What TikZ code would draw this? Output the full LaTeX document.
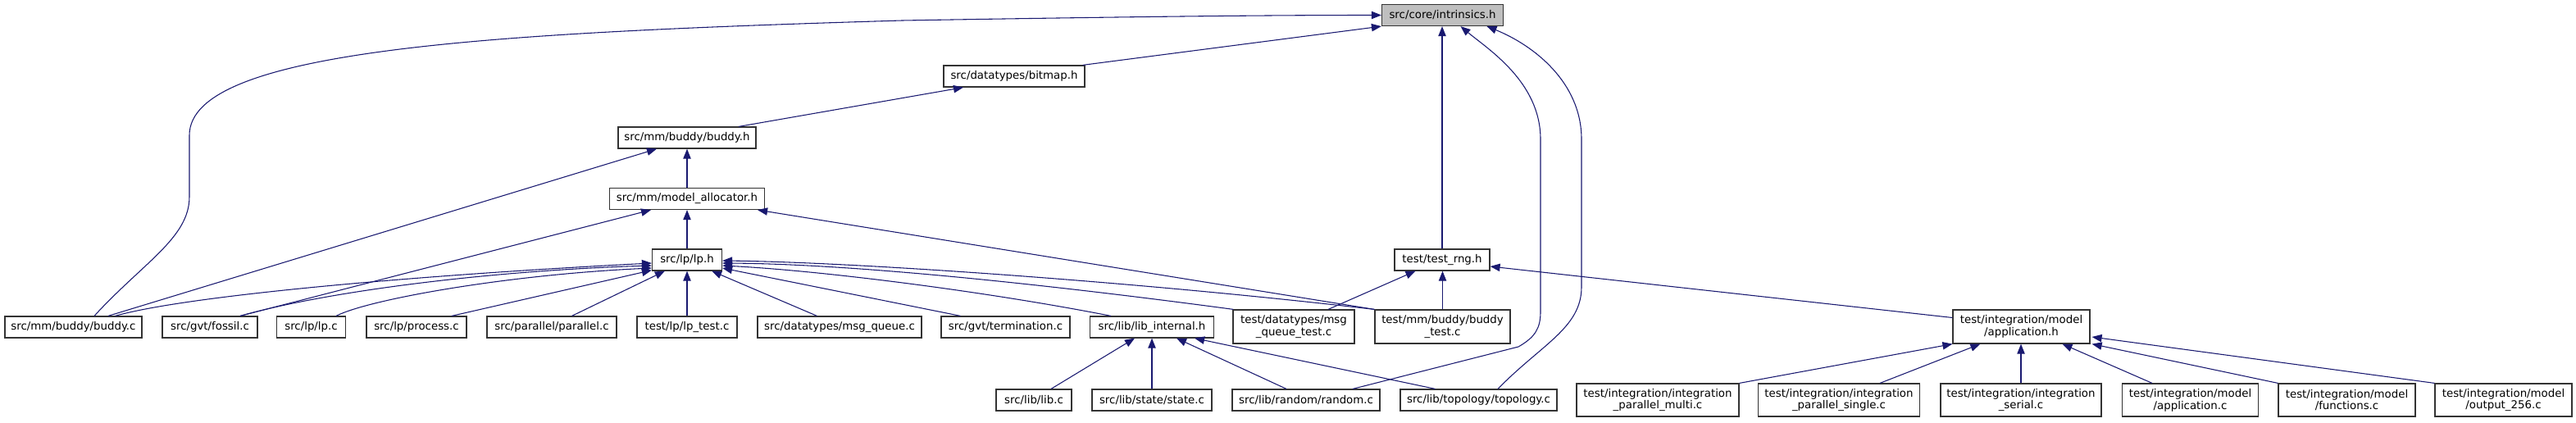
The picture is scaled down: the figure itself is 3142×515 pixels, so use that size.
\documentclass[tikz,border=0pt]{standalone}
\usepackage{fontspec}
\setmainfont{DejaVu Sans}
\usetikzlibrary{arrows.meta,calc}
\definecolor{edgeblue}{HTML}{191970}
\definecolor{rootgray}{HTML}{BFBFBF}
\begin{document}
\begin{tikzpicture}[x=0.75pt,y=-0.75pt,
  nd/.style={draw=black!80, line width=0.9pt, fill=white, inner sep=0pt,
    minimum height=19.5pt, font=\fontsize{10}{11}\selectfont, align=center},
  two/.style={nd, minimum height=30.75pt},
  twob/.style={nd, minimum height=30pt},
  wd/.style={minimum width=#1*0.75pt},
  edge/.style={draw=edgeblue, line width=0.8pt, -{Triangle[length=9pt,width=7pt]}}]
\useasboundingbox (0,0) rectangle (3142,515);
% nodes
\node[nd,wd=148,fill=rootgray] (intr) at (1759.5,18.5) {src/core/intrinsics.h};
\node[nd,wd=172] (bitmap) at (1237,93) {src/datatypes/bitmap.h};
\node[nd,wd=168] (buddyh) at (838,168) {src/mm/buddy/buddy.h};
\node[nd,wd=189] (modalloc) at (838,242.5) {src/mm/model\_allocator.h};
\node[nd,wd=85] (lph) at (838,317) {src/lp/lp.h};
\node[nd,wd=116] (testrng) at (1759,317) {test/test\_rng.h};
\node[nd,wd=167] (buddyc) at (89.5,399) {src/mm/buddy/buddy.c};
\node[nd,wd=116] (fossil) at (256,399) {src/gvt/fossil.c};
\node[nd,wd=84] (lpc) at (379.5,399) {src/lp/lp.c};
\node[nd,wd=122] (process) at (508,399) {src/lp/process.c};
\node[nd,wd=158] (parallel) at (673,399) {src/parallel/parallel.c};
\node[nd,wd=122] (lptest) at (838,399) {test/lp/lp\_test.c};
\node[nd,wd=200] (msgq) at (1024,399) {src/datatypes/msg\_queue.c};
\node[nd,wd=157] (term) at (1226.5,399) {src/gvt/termination.c};
\node[nd,wd=151] (libint) at (1405,399) {src/lib/lib\_internal.h};
\node[two,wd=148] (msgqtest) at (1578,398.5) {test/datatypes/msg\\\_queue\_test.c};
\node[two,wd=165] (buddytest) at (1759.5,398.5) {test/mm/buddy/buddy\\\_test.c};
\node[two,wd=167] (apph) at (2465.5,398.5) {test/integration/model\\/application.h};
\node[nd,wd=92] (libc) at (1261,488) {src/lib/lib.c};
\node[nd,wd=146] (state) at (1405,488) {src/lib/state/state.c};
\node[nd,wd=180] (random) at (1593,488) {src/lib/random/random.c};
\node[nd,wd=191] (topology) at (1803.5,488) {src/lib/topology/topology.c};
\node[twob,wd=198] (pmulti) at (2022,488) {test/integration/integration\\\_parallel\_multi.c};
\node[twob,wd=197] (psingle) at (2243,488) {test/integration/integration\\\_parallel\_single.c};
\node[twob,wd=196] (serial) at (2465,488) {test/integration/integration\\\_serial.c};
\node[twob,wd=166] (appc) at (2671.5,488) {test/integration/model\\/application.c};
\node[twob,wd=167] (func) at (2862.5,488) {test/integration/model\\/functions.c};
\node[twob,wd=167] (out256) at (3053.5,488) {test/integration/model\\/output\_256.c};
% edges to intrinsics.h
\draw[edge] ($(bitmap.north east)+(-3,0)$) -- (intr.south west);
\draw[edge] ($(buddyc.north)+(25.5,0)$) .. controls (175,320) and (231,290) .. (231,240)
  -- (231,165) .. controls (231,60) and (600,40) .. (1100,25)
  .. controls (1400,20) and (1550,18.5) .. (intr.west);
\draw[edge] (testrng.north) -- (testrng.north |- intr.south);
\draw[edge] ($(random.north)+(57,0)$) -- (1852,423) .. controls (1873,411) and (1879,400) .. (1879,380)
  -- (1879,170) .. controls (1879,100) and (1815,60) .. ($(intr.south)+(22,0)$);
\draw[edge] ($(topology.north)+(23.5,0)$) .. controls (1880,420) and (1929,400) .. (1929,350)
  -- (1929,170) .. controls (1929,100) and (1870,55) .. ($(intr.south)+(54,0)$);
% bitmap / buddy.h / model_allocator
\draw[edge] ($(buddyh.north)+(63,0)$) -- ($(bitmap.south)+(-62,0)$);
\draw[edge] (modalloc.north) -- (buddyh.south);
\draw[edge] ($(buddyc.north)+(42.5,0)$) -- ($(buddyh.south)+(-37,0)$);
\draw[edge] (lph.north) -- (modalloc.south);
\draw[edge] ($(fossil.north)+(37,0)$) -- ($(modalloc.south)+(-44,0)$);
\draw[edge] (buddytest.north west) -- ($(modalloc.south east)+(-9,0)$);
% lp.h left
\draw[edge] ($(buddyc.north)+(51,0)$) .. controls (230,360) and (520,335) .. ($(lph.west)+(0,4)$);
\draw[edge] ($(fossil.north)+(37,0)$) .. controls (400,355) and (600,330) .. ($(lph.west)+(0,7)$);
\draw[edge] ($(lpc.north)+(30.5,0)$) .. controls (450,365) and (620,335) .. ($(lph.west)+(0,10)$);
\draw[edge] ($(process.north)+(43,0)$) -- ($(lph.south west)+(0,-1)$);
\draw[edge] ($(parallel.north)+(24.5,0)$) -- ($(lph.south west)+(16,0)$);
\draw[edge] (lptest.north) -- (lph.south);
% lp.h right
\draw[edge] ($(msgq.north)+(-27.5,0)$) -- ($(lph.south east)+(-13,0)$);
\draw[edge] ($(term.north)+(-55,0)$) -- ($(lph.east)+(0,10)$);
\draw[edge] ($(libint.north)+(-50,0)$) .. controls (1200,355) and (1000,330) .. ($(lph.east)+(0,7)$);
\draw[edge] ($(msgqtest.north west)+(1,0)$) .. controls (1300,350) and (1050,322) .. ($(lph.east)+(0,4)$);
\draw[edge] (buddytest.north west) .. controls (1400,345) and (1050,320) .. ($(lph.east)+(0,1)$);
% test_rng.h
\draw[edge] ($(msgqtest.north)+(42,0)$) -- ($(testrng.south)+(-32.5,0)$);
\draw[edge] (buddytest.north) -- (buddytest.north |- testrng.south);
\draw[edge] ($(apph.west)+(0,-11)$) -- ($(testrng.east)+(0,8)$);
% lib_internal.h
\draw[edge] ($(libc.north)+(21,0)$) -- ($(libint.south)+(-21,0)$);
\draw[edge] (state.north) -- (libint.south);
\draw[edge] ($(random.north)+(-24,0)$) -- ($(libint.south)+(30,0)$);
\draw[edge] ($(topology.north)+(-53,0)$) -- ($(libint.south east)+(-24,0)$);
% application.h
\draw[edge] (pmulti.north east) -- (apph.south west);
\draw[edge] ($(psingle.north)+(50,0)$) -- ($(apph.south west)+(34,0)$);
\draw[edge] (serial.north) -- (serial.north |- apph.south);
\draw[edge] ($(appc.north)+(-46.5,0)$) -- ($(apph.south)+(50,0)$);
\draw[edge] (func.north west) -- ($(apph.south east)+(2,0)$);
\draw[edge] (out256.north west) -- ($(apph.east)+(2,12.5)$);
\end{tikzpicture}
\end{document}
